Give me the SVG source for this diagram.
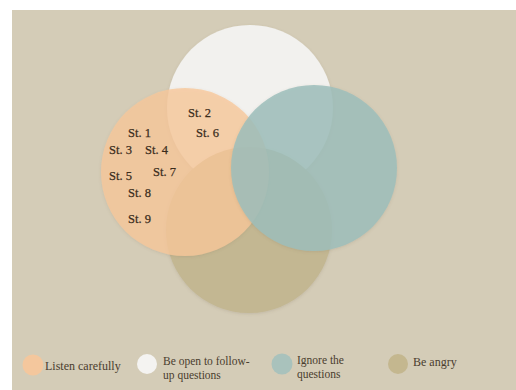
<svg xmlns="http://www.w3.org/2000/svg" width="516" height="390" viewBox="0 0 516 390">
  <defs>
    <filter id="soft" x="-10%" y="-10%" width="120%" height="120%">
      <feDropShadow dx="0" dy="1" stdDeviation="1.5" flood-color="#6b5d45" flood-opacity="0.18"/>
    </filter>
  </defs>
  <style>
    .lbl { font-family: "Liberation Serif", "Times New Roman", serif; font-size: 12.5px; fill: #3a2c1c; stroke: #3a2c1c; stroke-width: 0.25px; }
    .leg { font-family: "Liberation Serif", "Times New Roman", serif; font-size: 12px; fill: #4a3d2e; }
    .leg2 { font-family: "Liberation Serif", "Times New Roman", serif; font-size: 11.5px; fill: #4a3d2e; }
    .set { filter: url(#soft); }
  </style>

  <!-- page and panel -->
  <rect x="0" y="0" width="516" height="390" fill="#ffffff"/>
  <rect x="12" y="10" width="504" height="380" fill="#d4ccb7"/>

  <!-- Venn sets -->
  <g id="set-open">
    <circle class="set" cx="250" cy="108" r="83" fill="#f2f1ee"/>
  </g>
  <g id="set-angry">
    <circle class="set" cx="249" cy="230" r="83" fill="#c3b792"/>
  </g>
  <g id="set-listen">
    <circle class="set" cx="185" cy="172" r="84" fill="#f8c89a" fill-opacity="0.78"/>
  </g>
  <g id="set-ignore">
    <circle class="set" cx="314" cy="168" r="83" fill="#9ebebb" fill-opacity="0.85"/>
  </g>

  <!-- statements -->
  <g id="statements">
    <text class="lbl" x="188" y="117">St. 2</text>
    <text class="lbl" x="128" y="137">St. 1</text>
    <text class="lbl" x="196" y="137">St. 6</text>
    <text class="lbl" x="109" y="154">St. 3</text>
    <text class="lbl" x="145" y="154">St. 4</text>
    <text class="lbl" x="153" y="176">St. 7</text>
    <text class="lbl" x="109" y="180">St. 5</text>
    <text class="lbl" x="128" y="197">St. 8</text>
    <text class="lbl" x="128" y="223">St. 9</text>
  </g>

  <!-- legend -->
  <g id="legend">
    <g id="legend-listen">
      <circle cx="33" cy="365" r="10.5" fill="#f4c79d"/>
      <text class="leg" x="45" y="370">Listen carefully</text>
    </g>
    <g id="legend-open">
      <circle cx="147" cy="364" r="10" fill="#f4f3f1"/>
      <text class="leg2" x="163" y="365">Be open to follow-</text>
      <text class="leg2" x="163" y="378.5">up questions</text>
    </g>
    <g id="legend-ignore">
      <circle cx="282" cy="364" r="10.5" fill="#a9c2bc"/>
      <text class="leg2" x="297" y="364">Ignore the</text>
      <text class="leg2" x="297" y="377.5">questions</text>
    </g>
    <g id="legend-angry">
      <circle cx="398" cy="364" r="10" fill="#c4b78f"/>
      <text class="leg" x="413" y="366">Be angry</text>
    </g>
  </g>
</svg>
